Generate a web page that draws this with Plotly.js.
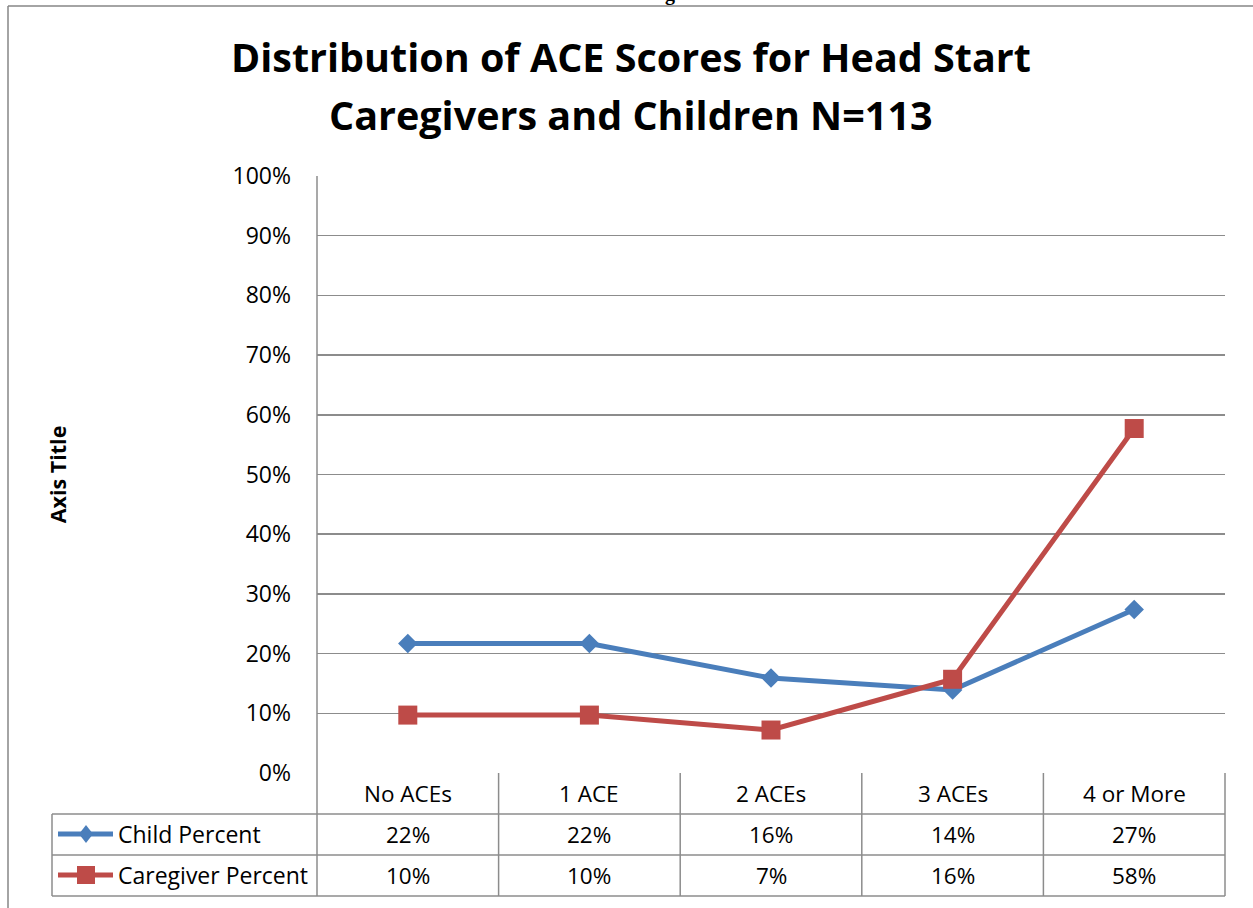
<!DOCTYPE html>
<html>
<head>
<meta charset="utf-8">
<script src="https://cdn.plot.ly/plotly-3.0.1.min.js"></script>
<style>html,body{margin:0;padding:0;background:#fff;}#chart{width:1253px;height:908px;}</style>
</head>
<body>
<div id="chart"></div>
<script>
// ---- data ----
var categories = ['No ACEs', '1 ACE', '2 ACEs', '3 ACEs', '4 or More'];
var seriesNames = ['Child Percent', 'Caregiver Percent'];
var childPct = [0.217, 0.217, 0.159, 0.139, 0.274];
var caregiverPct = [0.097, 0.097, 0.072, 0.157, 0.577];
var yTickVals = [0, 0.1, 0.2, 0.3, 0.4, 0.5, 0.6, 0.7, 0.8, 0.9, 1.0];
var titleLines = ['Distribution of ACE Scores for Head Start', 'Caregivers and Children N=113'];

// ---- layout geometry (pixels) ----
var W = 1253, H = 908;
var L = 317, R = 1225, T = 176, B = 773;
function px(x) { return (x - L) / (R - L); }
function py(y) { return (B - y) / (B - T); }

var BLUE = '#4A7EBB', RED = '#BE4B48', GRID = '#8C8C8C';
var FONT = '"Open Sans", "Noto Sans", sans-serif';
var fmt = function (v) { return Math.round(v * 100) + '%'; };

var traces = [
  { type: 'scatter', mode: 'lines+markers', name: seriesNames[0], x: categories, y: childPct,
    line: { color: BLUE, width: 5 }, marker: { symbol: 'diamond', size: 15, color: BLUE }, cliponaxis: false },
  { type: 'scatter', mode: 'lines+markers', name: seriesNames[1], x: categories, y: caregiverPct,
    line: { color: RED, width: 5 }, marker: { symbol: 'square', size: 19, color: RED }, cliponaxis: false }
];

var shapes = [];
function hline(x0, x1, y, c, w) { shapes.push({ type: 'line', xref: 'paper', yref: 'paper', x0: px(x0), x1: px(x1), y0: py(y), y1: py(y), line: { color: c || GRID, width: w || 1.5 } }); }
function vline(x, y0, y1, c, w) { shapes.push({ type: 'line', xref: 'paper', yref: 'paper', x0: px(x), x1: px(x), y0: py(y0), y1: py(y1), line: { color: c || GRID, width: w || 1.5 } }); }

// outer chart border (left and top)
hline(8, W + 5, 6, '#868686', 1.5);
vline(8, 6, H + 5, '#868686', 1.5);

// data table
var rowY = [773, 814, 855, 896];
hline(52, R, rowY[1]);
hline(52, R, rowY[2]);
hline(52, R, rowY[3]);
vline(52, rowY[1], rowY[3]);
vline(L, T, rowY[3]);
var colW = (R - L) / categories.length;
for (var i = 1; i <= categories.length; i++) vline(L + colW * i, rowY[0], rowY[3]);

// legend keys in table
var keyY1 = 834, keyY2 = 875, keyCx = 86;
hline(58, 113, keyY1, BLUE, 5);
hline(58, 113, keyY2, RED, 5);
shapes.push({ type: 'path', xref: 'paper', yref: 'paper', fillcolor: BLUE, line: { width: 0 },
  path: 'M ' + px(keyCx) + ' ' + py(keyY1 - 9) + ' L ' + px(keyCx + 7) + ' ' + py(keyY1) + ' L ' + px(keyCx) + ' ' + py(keyY1 + 9) + ' L ' + px(keyCx - 7) + ' ' + py(keyY1) + ' Z' });
shapes.push({ type: 'rect', xref: 'paper', yref: 'paper', fillcolor: RED, line: { width: 0 },
  x0: px(keyCx - 9), x1: px(keyCx + 9), y0: py(keyY2 - 9), y1: py(keyY2 + 9) });

var annotations = [];
function txt(t, x, y, size, opts) {
  var a = { text: t, xref: 'paper', yref: 'paper', x: px(x), y: py(y), showarrow: false,
    xanchor: 'center', yanchor: 'middle', font: { family: FONT, size: size, color: '#000' } };
  for (var k in (opts || {})) a[k] = opts[k];
  annotations.push(a);
}
// title (two lines)
txt('<b>' + titleLines[0] + '</b>', 631, 57, 39.5);
txt('<b>' + titleLines[1] + '</b>', 631, 115, 39.5);
// clipped text above the chart (as in the source image)
txt('<b>g</b>', 670, -6, 20, { font: { family: '"Liberation Serif", serif', size: 20, color: '#000' } });
// table text
var cellY = [793, 834, 875];
for (var j = 0; j < categories.length; j++) {
  var cx = L + colW * (j + 0.5);
  txt(categories[j], cx, cellY[0], 22.5);
  txt(fmt(childPct[j]), cx, cellY[1], 22.5);
  txt(fmt(caregiverPct[j]), cx, cellY[2], 22.5);
}
txt(seriesNames[0], 116, cellY[1], 23, { xanchor: 'left' });
txt(seriesNames[1], 116, cellY[2], 23, { xanchor: 'left' });

var layout = {
  width: W, height: H,
  margin: { l: L, r: W - R, t: T, b: H - B, pad: 0 },
  paper_bgcolor: '#fff', plot_bgcolor: '#fff',
  showlegend: false,
  font: { family: FONT, size: 22, color: '#000' },
  xaxis: { type: 'category', range: [-0.5, categories.length - 0.5], showticklabels: false,
    showgrid: false, zeroline: false, showline: false, fixedrange: true },
  yaxis: { range: [0, 1], tickvals: yTickVals, tickformat: '.0%', showgrid: true, gridcolor: GRID, gridwidth: 1.5,
    zeroline: false, showline: false, ticks: '', ticklabelstandoff: 25,
    tickfont: { family: FONT, size: 23, color: '#000' },
    title: { text: '<b>Axis Title</b>', font: { family: FONT, size: 21.5, color: '#000' }, standoff: 160 } },
  shapes: shapes,
  annotations: annotations
};

Plotly.newPlot('chart', traces, layout, { displayModeBar: false, staticPlot: true });
</script>
</body>
</html>
